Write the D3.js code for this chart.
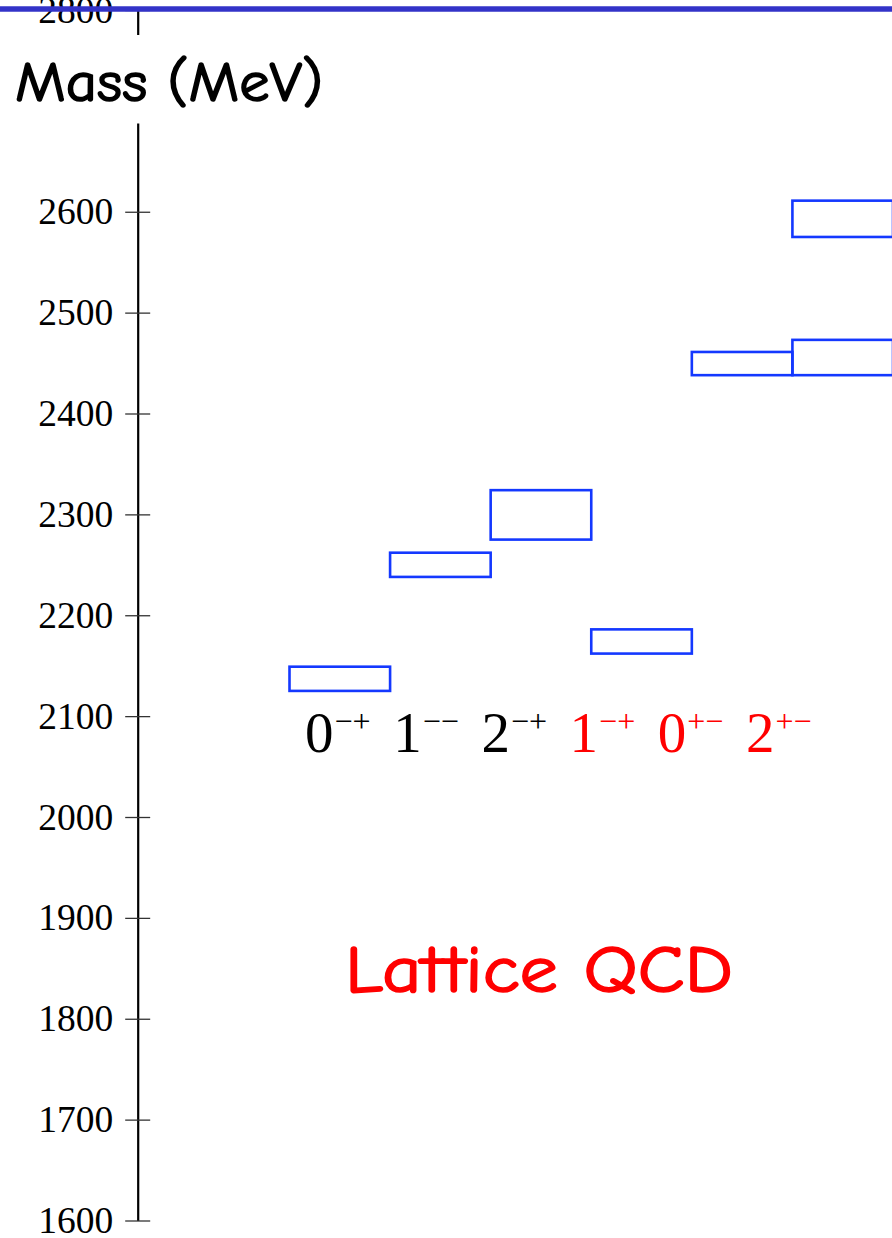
<!DOCTYPE html>
<html>
<head>
<meta charset="utf-8">
<script src="https://cdn.jsdelivr.net/npm/d3@7"></script>
<style>
  html, body { margin: 0; padding: 0; background: #fff; }
  svg { display: block; }
</style>
</head>
<body>
<svg id="chart" width="892" height="1238"></svg>
<script>
// Quantum numbers J^PC of each column
const channels   = ["0-+", "1--", "2-+", "1-+", "0+-", "2+-"];
const spins      = ["0", "1", "2", "1", "0", "2"];
const parities   = ["\u2212+", "\u2212\u2212", "\u2212+", "\u2212+", "+\u2212", "+\u2212"];
const exotic     = [false, false, false, true, true, true];

// Mass bands (MeV) for each state: channel, lower edge, upper edge
const stateChannel = ["0-+", "1--", "2-+", "1-+", "0+-", "2+-", "2+-"];
const stateLow     = [2125, 2238, 2275, 2162, 2438, 2438, 2575];
const stateHigh    = [2149, 2262, 2324, 2186, 2461, 2473, 2611];

// Axis ticks
const massTicks = d3.range(1600, 2801, 100);

const svg = d3.select("#chart");

const y = d3.scaleLinear().domain([1600, 2800]).range([1220.5, 10]);
const x = d3.scaleBand().domain(channels).range([289.5, 893]).padding(0);
const labelX = d3.scalePoint().domain(channels).range([305, 746]);

const axisX = 137.7;

// Mass axis
const axis = d3.axisLeft(y)
  .tickValues(massTicks)
  .tickFormat(d3.format("d"))
  .tickSizeInner(12.5)
  .tickSizeOuter(0)
  .tickPadding(12);

const gAxis = svg.append("g")
  .attr("transform", `translate(${axisX},0)`)
  .call(axis);

gAxis.select(".domain").attr("stroke", "#000").attr("stroke-width", 2.2);
gAxis.selectAll(".tick line")
  .attr("x1", 12.5).attr("x2", -12.5)
  .attr("stroke", "#333").attr("stroke-width", 1.3);
gAxis.selectAll(".tick text")
  .attr("font-family", "'Liberation Serif', 'Times New Roman', serif")
  .attr("font-size", 37.5)
  .attr("fill", "#000");

// Mass bands
svg.append("g")
  .selectAll("rect")
  .data(stateLow.map((lo, i) => ({ ch: stateChannel[i], lo, hi: stateHigh[i] })))
  .join("rect")
  .attr("x", d => x(d.ch))
  .attr("width", x.bandwidth())
  .attr("y", d => y(d.hi))
  .attr("height", d => y(d.lo) - y(d.hi))
  .attr("fill", "none")
  .attr("stroke", "#1438ff")
  .attr("stroke-width", 2.6);

// J^PC labels
const labels = svg.append("g")
  .selectAll("text")
  .data(channels.map((c, i) => ({ c, j: spins[i], pc: parities[i], ex: exotic[i] })))
  .join("text")
  .attr("x", d => labelX(d.c))
  .attr("y", 752)
  .attr("font-family", "'Liberation Serif', 'Times New Roman', serif")
  .attr("fill", d => d.ex ? "#ff0000" : "#000");

labels.append("tspan")
  .attr("font-size", 57)
  .text(d => d.j);
labels.append("tspan")
  .attr("font-size", 32)
  .attr("dx", 1)
  .attr("dy", -20)
  .text(d => d.pc);

// Caption
svg.append("text")
  .attr("x", 345)
  .attr("y", 992)
  .attr("font-family", "'Comic Sans MS', 'Comic Neue', 'Open Sans', sans-serif")
  .attr("font-size", 66)
  .attr("fill", "#ff0000")
  .attr("stroke", "#ff0000")
  .attr("stroke-width", 1.6)
  .attr("textLength", 388)
  .attr("lengthAdjust", "spacingAndGlyphs")
  .text("Lattice QCD");

// Axis title on a white plate
svg.append("rect")
  .attr("x", 0).attr("y", 35)
  .attr("width", 335).attr("height", 88.5)
  .attr("fill", "#fff");

svg.append("text")
  .attr("x", 15)
  .attr("y", 101)
  .attr("font-family", "'Comic Sans MS', 'Comic Neue', 'Open Sans', sans-serif")
  .attr("font-size", 57)
  .attr("fill", "#000")
  .attr("stroke", "#000")
  .attr("stroke-width", 1.6)
  .attr("textLength", 308)
  .attr("lengthAdjust", "spacingAndGlyphs")
  .text("Mass (MeV)");

// Top rule
svg.append("line")
  .attr("x1", 0).attr("x2", 892)
  .attr("y1", 9).attr("y2", 9)
  .attr("stroke", "#3333c8")
  .attr("stroke-width", 5.5);
</script>
</body>
</html>
